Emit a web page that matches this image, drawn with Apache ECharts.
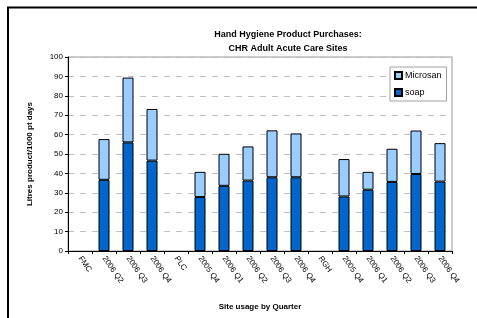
<!DOCTYPE html>
<html>
<head>
<meta charset="utf-8">
<script src="https://cdn.jsdelivr.net/npm/echarts@6/dist/echarts.min.js"></script>
<style>
  html, body { margin: 0; padding: 0; background: #fff; }
  #chart { width: 477px; height: 318px; }
</style>
</head>
<body>
<div id="chart"></div>
<script>
// quarters per site, site name rows have no data
const categories = [
  "FMC", "2006 Q2", "2006 Q3", "2006 Q4",
  "PLC", "2005 Q4", "2006 Q1", "2006 Q2", "2006 Q3", "2006 Q4",
  "RGH", "2005 Q4", "2006 Q1", "2006 Q2", "2006 Q3", "2006 Q4"
];
const soap = [
  null, 36.7, 56, 46.6,
  null, 27.8, 33.6, 36.3, 38, 38,
  null, 28.1, 31.6, 35.6, 39.7, 35.8
];
const microsan = [
  null, 21, 33.4, 26.6,
  null, 13, 16.5, 17.6, 24.2, 22.6,
  null, 19.3, 9.2, 17.1, 22.4, 19.8
];
const yTicks = [0, 10, 20, 30, 40, 50, 60, 70, 80, 90, 100];

const font = "Arial, 'Liberation Sans', sans-serif";
const chart = echarts.init(document.getElementById("chart"));

const option = {
  animation: false,
  textStyle: { fontFamily: font },
  title: {
    text: "Hand Hygiene Product Purchases:\nCHR Adult Acute Care Sites",
    left: 283,
    top: 23,
    textAlign: "center",
    textStyle: { fontSize: 9, fontWeight: "bold", color: "#000", lineHeight: 14, fontFamily: font }
  },
  legend: {
    data: ["Microsan", "soap"],
    orient: "vertical",
    left: 390,
    top: 67,
    itemWidth: 7,
    itemHeight: 7,
    itemGap: 8,
    padding: [4, 5, 4, 4],
    borderColor: "#a0a0a0",
    borderWidth: 1,
    backgroundColor: "#fff",
    textStyle: { fontSize: 9, color: "#000", fontFamily: font, padding: [0, 0, 0, -2] },
    icon: "rect"
  },
  grid: {
    left: 68,
    right: 25,
    top: 57,
    bottom: 67,
    show: true,
    borderColor: "#999",
    borderWidth: 1
  },
  xAxis: {
    type: "category",
    data: categories,
    name: "Site usage by Quarter",
    nameLocation: "middle",
    nameGap: 52,
    nameTextStyle: { fontSize: 8, fontWeight: "bold", color: "#000", fontFamily: font },
    axisLine: { lineStyle: { color: "#000" } },
    axisTick: { show: true, length: 3, lineStyle: { color: "#000" } },
    axisLabel: {
      rotate: -55,
      interval: 0,
      fontSize: 8,
      color: "#000",
      margin: 6,
      fontFamily: font
    }
  },
  yAxis: {
    type: "value",
    min: yTicks[0],
    max: yTicks[yTicks.length - 1],
    interval: 10,
    name: "Litres product/1000 pt days",
    nameLocation: "middle",
    nameGap: 34,
    nameTextStyle: { fontSize: 8, fontWeight: "bold", color: "#000", fontFamily: font },
    axisLine: { show: true, lineStyle: { color: "#000" } },
    axisTick: { show: true, length: 3, lineStyle: { color: "#000" } },
    axisLabel: { fontSize: 8, color: "#000", margin: 5, fontFamily: font },
    splitLine: { lineStyle: { color: "#c0c0c0", type: [6, 6] } }
  },
  series: [
    {
      name: "soap",
      type: "bar",
      stack: "total",
      barWidth: 11,
      data: soap,
      itemStyle: { color: "#0066CC", borderColor: "#000", borderWidth: 1 }
    },
    {
      name: "Microsan",
      type: "bar",
      stack: "total",
      barWidth: 11,
      data: microsan,
      itemStyle: { color: "#99CCFF", borderColor: "#000", borderWidth: 1 }
    }
  ],
  graphic: [
    {
      type: "rect",
      shape: { x: 8, y: 7.5, width: 520, height: 400 },
      style: { fill: null, stroke: "#000", lineWidth: 2 },
      silent: true
    }
  ]
};

chart.setOption(option);
</script>
</body>
</html>
